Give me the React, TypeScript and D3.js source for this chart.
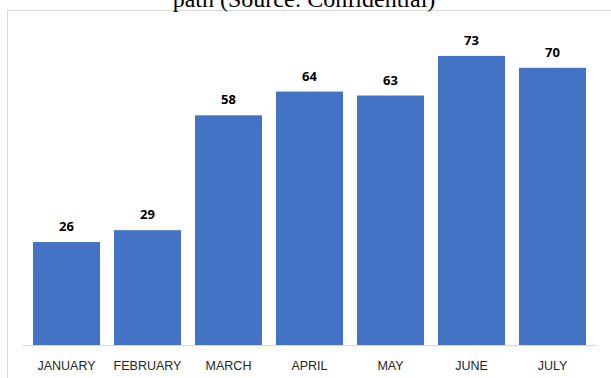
import React from "react";
import * as d3 from "d3";

const months = ["JANUARY", "FEBRUARY", "MARCH", "APRIL", "MAY", "JUNE", "JULY"];
const values = [26, 29, 58, 64, 63, 73, 70];
const titleText = "path (Source: Confidential)";

export default function App() {
  const W = 611;
  const H = 378;
  const baseline = 345;
  const x = d3.scaleBand<string>().domain(months).range([26, 593]).paddingInner(0.173).paddingOuter(0.0865);
  const y = d3.scaleLinear().domain([0, 80]).range([baseline, baseline - 80 * 3.96]);
  return (
    <svg width={W} height={H} style={{ position: "absolute", left: 0, top: 0 }}>
      <rect x={0} y={0} width={W} height={H} fill="#fff" />
      <rect x={7.5} y={10.5} width={W + 10} height={H + 10} fill="none" stroke="#d9d9d9" strokeWidth={1} />
      <text x={304} y={7} textAnchor="middle" fontFamily="'Liberation Serif', 'Times New Roman', serif" fontSize={24} fill="#000">
        {titleText}
      </text>
      {months.map((m, i) => (
        <g key={m}>
          <rect x={x(m)} y={y(values[i])} width={x.bandwidth()} height={baseline - y(values[i])} fill="#4472C4" />
          <text x={(x(m) as number) + x.bandwidth() / 2} y={y(values[i]) - 11} textAnchor="middle" fontFamily="'Open Sans', 'Liberation Sans', sans-serif" fontWeight="bold" fontSize={13} fill="#000">
            {values[i]}
          </text>
          <text x={(x(m) as number) + x.bandwidth() / 2} y={370} textAnchor="middle" fontFamily="'Liberation Sans Narrow', 'Liberation Sans', sans-serif" fontSize={12.5} fill="#262626">
            {m}
          </text>
        </g>
      ))}
      <line x1={23} x2={597} y1={baseline + 0.5} y2={baseline + 0.5} stroke="#d9d9d9" strokeWidth={1} />
    </svg>
  );
}
